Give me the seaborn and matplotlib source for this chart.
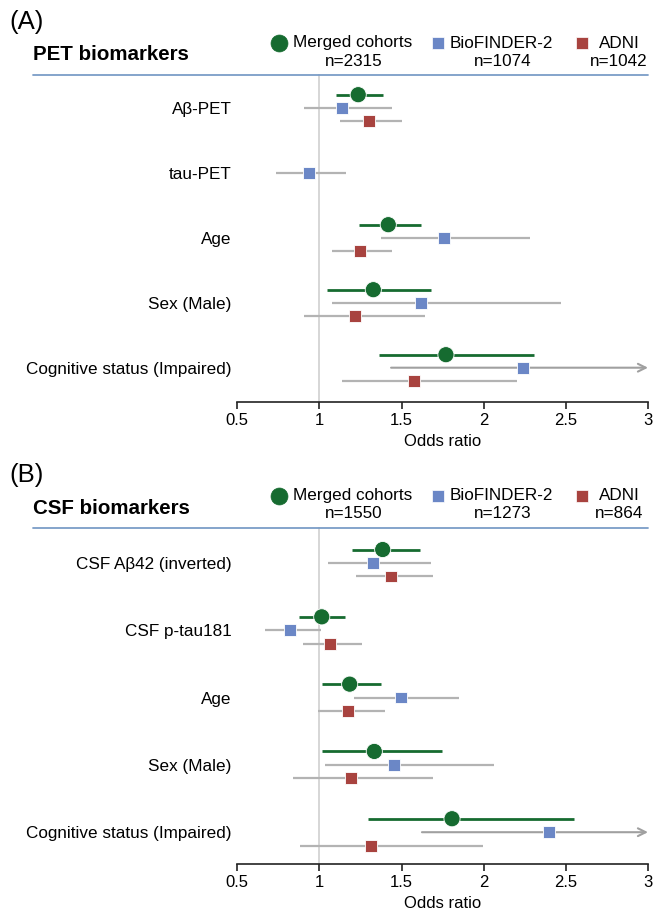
import numpy as np
import pandas as pd
import matplotlib
matplotlib.use("Agg")
import matplotlib.pyplot as plt
from matplotlib.lines import Line2D
import seaborn as sns

nan = np.nan
inf = np.inf

# ---------------- data ----------------
cohorts = ["Merged cohorts", "BioFINDER-2", "ADNI"]

pet_labels = ["Aβ-PET", "tau-PET", "Age", "Sex (Male)", "Cognitive status (Impaired)"]
pet_n = [2315, 1074, 1042]
pet_merged_or = [1.236, nan, 1.419, 1.328, 1.770]
pet_merged_lo = [1.099, nan, 1.239, 1.048, 1.361]
pet_merged_hi = [1.389, nan, 1.618, 1.679, 2.308]
pet_bf_or = [1.139, 0.938, 1.760, 1.618, 2.241]
pet_bf_lo = [0.906, 0.736, 1.376, 1.076, 1.436]
pet_bf_hi = [1.442, 1.160, 2.282, 2.472, inf]
pet_adni_or = [1.300, nan, 1.249, 1.218, 1.577]
pet_adni_lo = [1.127, nan, 1.076, 0.906, 1.137]
pet_adni_hi = [1.500, nan, 1.442, 1.641, 2.200]

csf_labels = ["CSF Aβ42 (inverted)", "CSF p-tau181", "Age", "Sex (Male)", "Cognitive status (Impaired)"]
csf_n = [1550, 1273, 864]
csf_merged_or = [1.385, 1.014, 1.184, 1.334, 1.807]
csf_merged_lo = [1.198, 0.876, 1.016, 1.016, 1.296]
csf_merged_hi = [1.614, 1.156, 1.375, 1.746, 2.547]
csf_bf_or = [1.326, 0.823, 1.496, 1.456, 2.399]
csf_bf_lo = [1.054, 0.669, 1.210, 1.034, 1.624]
csf_bf_hi = [1.679, 1.008, 1.851, 2.060, inf]
csf_adni_or = [1.436, 1.064, 1.174, 1.194, 1.316]
csf_adni_lo = [1.224, 0.902, 0.991, 0.841, 0.883]
csf_adni_hi = [1.689, 1.259, 1.399, 1.689, 1.995]

x_ticks = [0.5, 1, 1.5, 2, 2.5, 3]
x_ticklabels = ["0.5", "1", "1.5", "2", "2.5", "3"]

# ---------------- style ----------------
sns.set_theme(style="white")
plt.rcParams["font.family"] = ["Liberation Sans", "DejaVu Sans"]
plt.rcParams["text.color"] = "black"
plt.rcParams["axes.labelcolor"] = "black"
plt.rcParams["xtick.color"] = "black"
plt.rcParams["ytick.color"] = "black"

GREEN = "#166b30"
BLUE = "#6b87c6"
RED = "#a8433f"
GRAY_CI = "#b3b3b3"
HEADER = "#7b9dc7"
colors = {"Merged cohorts": GREEN, "BioFINDER-2": BLUE, "ADNI": RED}
markers = {"Merged cohorts": "o", "BioFINDER-2": "s", "ADNI": "s"}
sizes = {"Merged cohorts": 135, "BioFINDER-2": 72, "ADNI": 72}
offsets = {"Merged cohorts": -0.2, "BioFINDER-2": 0.0, "ADNI": 0.2}

FS = 12.3

W, H = 664, 915
fig = plt.figure(figsize=(W / 100, H / 100), dpi=100)


def fx(px):
    return px / W


def fy(py):
    return 1 - py / H


def make_df(labels, ors, los, his):
    rows = []
    for c, o, l, h in zip(cohorts, ors, los, his):
        for i, lab in enumerate(labels):
            rows.append(dict(cohort=c, cat=i, label=lab, OR=o[i], lo=l[i], hi=h[i]))
    df = pd.DataFrame(rows)
    df["ypos"] = df["cat"] + df["cohort"].map(offsets)
    return df


def panel(letter, title, labels, n, df, top, bottom, blue0, step, letter_y, title_y):
    xmin, xmax = 0.5, 3.0
    left_px, right_px = 237.3, 648
    ax = fig.add_axes([fx(left_px), fy(bottom), (right_px - left_px) / W, (bottom - top) / H])
    ax.set_xlim(xmin, xmax)
    ax.set_ylim(4 + (bottom - (blue0 + 4 * step)) / step, -(blue0 - top) / step)

    ax.axvline(1, color="#cfcfcf", lw=1.2, zorder=0)

    d = df.dropna(subset=["OR"])
    for _, r in d.iterrows():
        col = GREEN if r["cohort"] == "Merged cohorts" else GRAY_CI
        lw = 2.0 if r["cohort"] == "Merged cohorts" else 1.6
        if np.isinf(r["hi"]):
            ax.annotate("", xy=(xmax, r["ypos"]), xytext=(r["lo"], r["ypos"]),
                        arrowprops=dict(arrowstyle="->", color="#a0a0a0", lw=1.5,
                                        shrinkA=0, shrinkB=0, mutation_scale=14),
                        annotation_clip=False, zorder=1)
        else:
            ax.hlines(r["ypos"], r["lo"], r["hi"], color=col, lw=lw, zorder=1)

    sns.scatterplot(data=d, x="OR", y="ypos", hue="cohort", style="cohort", size="cohort",
                    palette=colors, markers=markers, sizes=sizes, hue_order=cohorts,
                    style_order=cohorts, size_order=cohorts,
                    edgecolor="white", linewidth=0.6, legend=False, ax=ax, zorder=3)

    for s in ["top", "right", "left"]:
        ax.spines[s].set_visible(False)
    ax.spines["bottom"].set_color("#222222")
    ax.spines["bottom"].set_linewidth(1.2)
    ax.set_xticks(x_ticks)
    ax.set_xticklabels(x_ticklabels)
    ax.tick_params(axis="x", direction="out", length=5, width=1.2, color="#222222",
                   labelsize=12, pad=3, bottom=True)
    ax.set_yticks(range(len(labels)))
    ax.set_yticklabels(labels)
    ax.tick_params(axis="y", length=0, labelsize=FS, pad=4)
    ax.set_xlabel("Odds ratio", fontsize=12, labelpad=4)
    ax.set_ylabel("")
    ax.grid(False)

    # header
    fig.text(fx(9), fy(letter_y), f"({letter})", fontsize=18.5, va="center", ha="left")
    fig.text(fx(33), fy(title_y), title, fontsize=14.8, fontweight="bold", va="center", ha="left")
    hl = top + 1
    fig.add_artist(Line2D([fx(33), fx(648)], [fy(hl), fy(hl)], color=HEADER, lw=1.3,
                          transform=fig.transFigure))
    ly = title_y - 12
    ny = title_y + 6
    leg = [("Merged cohorts", 279, 293, 353.5, "o", 12.2),
           ("BioFINDER-2", 438, 450, 502.5, "s", 8.3),
           ("ADNI", 581.7, 599, 619, "s", 8.3)]
    for (name, mx, tx, cx, mk, ms), nn in zip(leg, n):
        fig.add_artist(Line2D([fx(mx)], [fy(ly)], marker=mk, ms=ms, color=colors[name],
                              mec="white" if mk == "s" else colors[name], mew=0.5,
                              lw=0, transform=fig.transFigure))
        fig.text(fx(tx), fy(ly), name, fontsize=FS, va="center", ha="left")
        fig.text(fx(cx), fy(ny), f"n={nn}", fontsize=FS, va="center", ha="center")
    return ax


pet_df = make_df(pet_labels, [pet_merged_or, pet_bf_or, pet_adni_or],
                 [pet_merged_lo, pet_bf_lo, pet_adni_lo],
                 [pet_merged_hi, pet_bf_hi, pet_adni_hi])
csf_df = make_df(csf_labels, [csf_merged_or, csf_bf_or, csf_adni_or],
                 [csf_merged_lo, csf_bf_lo, csf_adni_lo],
                 [csf_merged_hi, csf_bf_hi, csf_adni_hi])

panel("A", "PET biomarkers", pet_labels, pet_n, pet_df,
      top=74, bottom=402, blue0=107.7, step=65.0, letter_y=22, title_y=55)
panel("B", "CSF biomarkers", csf_labels, csf_n, csf_df,
      top=527, bottom=864, blue0=563, step=67.3, letter_y=475, title_y=508)

fig.savefig("out.png", dpi=100)
